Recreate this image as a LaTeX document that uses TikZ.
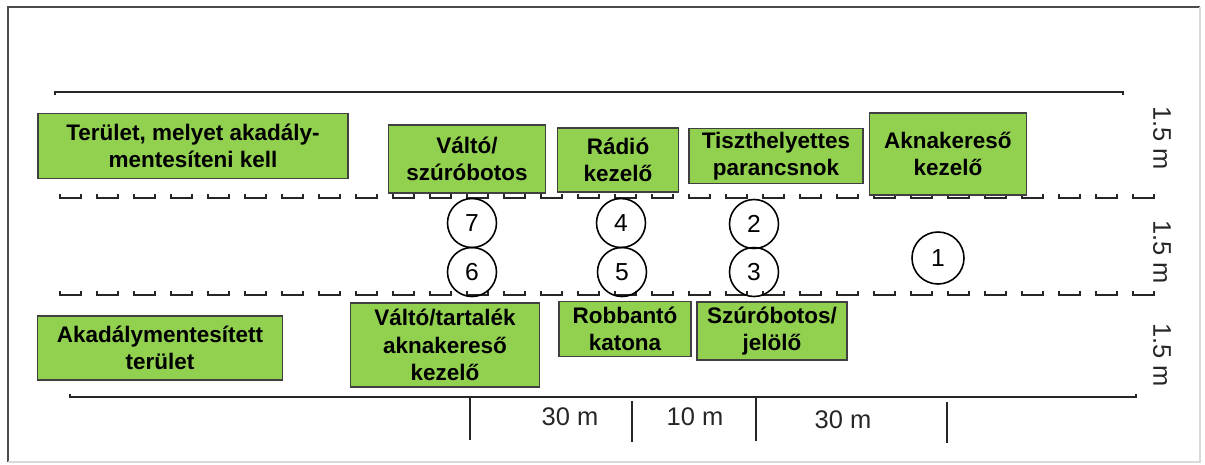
\documentclass[tikz,border=0pt]{standalone}
\usepackage{fontspec}
\setmainfont{Liberation Sans}
\usepackage{tikz}
\definecolor{boxgreen}{HTML}{92D050}
\newcommand{\boxFont}[0]{\bfseries\fontsize{12.8}{15.5}\selectfont}
\newcommand{\dimFont}[0]{\fontsize{14.5}{16}\selectfont}

\begin{document}
\begin{tikzpicture}[x=0.02cm, y=-0.02cm]
  \tikzset{
    greenbox/.style 2 args={draw=black!75, fill=boxgreen, line width=0.6pt,
      align=center, font=\boxFont, inner sep=0pt,
      minimum width=#1*0.02cm, minimum height=#2*0.02cm},
    soldier/.style={draw, circle, line width=0.9pt, minimum size=49*0.02cm,
      inner sep=0pt, font=\fontsize{14}{16}\selectfont},
    laneline/.style={line width=1.4pt, black!85},
    lanedash/.style={line width=1.1pt, black!85},
    dimtext/.style={font=\dimFont, text=black!85}
  }
  \useasboundingbox (0,0) rectangle (1205,464);
  \draw[black!70, line width=1pt] (8,462) -- (8,7) -- (1200,7);
  \draw[black!15, line width=0.8pt] (1200,7) -- (1200,462) -- (8,462);

  \coordinate (tl) at (55,92);
  \coordinate (tr) at (1123,92);
  \coordinate (bl) at (70,397);
  \coordinate (br) at (1136,397);
  \draw[laneline] (tl) ++(0,3) -- (tl) -- (tr) -- ++(0,3);
  \draw[laneline] (bl) ++(0,-3) -- (bl) -- (br) -- ++(0,-3);

  \foreach \k in {0,...,29} {
    \draw[lanedash] (60+37*\k,194) |- (81+37*\k,198) -- ++(0,-4);
    \draw[lanedash] (60+37*\k,291) |- (81+37*\k,295) -- ++(0,-4);
  }

  \node[greenbox={310}{65}] (area) at (193,146) {Terület, melyet akadály-\\mentesíteni kell};
  \node[greenbox={245}{64}] (cleared) at (160,348) {Akadálymentesített\\terület};
  \node[greenbox={157}{68}] (relief) at (467,159) {Váltó/\\szúróbotos};
  \node[greenbox={121}{64}] (radio) at (618,160) {Rádió\\kezelő};
  \node[greenbox={174}{55}] (nco) at (776,156) {Tiszthelyettes\\parancsnok};
  \node[greenbox={157}{82}] (detector) at (948,154) {Aknakereső\\kezelő};
  \node[greenbox={189}{84}] (reserve) at (445,345) {Váltó/tartalék\\aknakereső\\kezelő};
  \node[greenbox={132}{55}] (blaster) at (625,329) {Robbantó\\katona};
  \node[greenbox={150}{58}] (prober) at (772,331) {Szúróbotos/\\jelölő};

  \node[soldier] (s7) at (472,223) {7};
  \node[soldier] (s6) at (472,272) {6};
  \node[soldier] (s4) at (621,223) {4};
  \node[soldier] (s5) at (622,272) {5};
  \node[soldier] (s2) at (754,224) {2};
  \node[soldier] (s3) at (754,272) {3};
  \node[soldier, minimum size=52*0.02cm] (s1) at (938,258) {1};

  \node[dimtext, rotate=-90] (w1) at (1162,138) {1.5 m};
  \node[dimtext, rotate=-90] (w2) at (1162,252) {1.5 m};
  \node[dimtext, rotate=-90] (w3) at (1162,355) {1.5 m};

  \coordinate (t1) at (470,397);
  \coordinate (t2) at (632,401);
  \coordinate (t3) at (756,397);
  \coordinate (t4) at (947,402);
  \draw[laneline] (t1) -- ++(0,43);
  \draw[laneline] (t2) -- ++(0,41);
  \draw[laneline] (t3) -- ++(0,44);
  \draw[laneline] (t4) -- ++(0,41);
  \node[dimtext] (d1) at (570,417) {30 m};
  \node[dimtext] (d2) at (695,417) {10 m};
  \node[dimtext] (d3) at (843,420) {30 m};
\end{tikzpicture}
\end{document}
